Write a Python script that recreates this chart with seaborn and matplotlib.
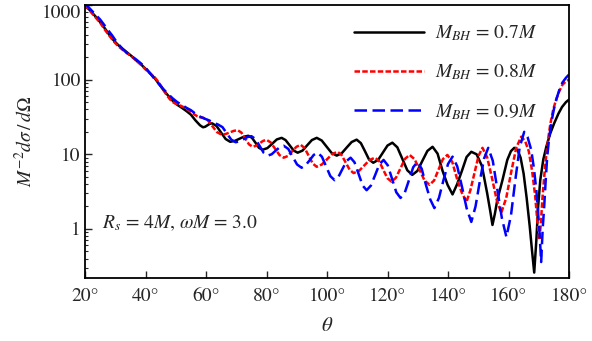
import numpy as np
import pandas as pd
import matplotlib
matplotlib.use("Agg")
import matplotlib.pyplot as plt
import seaborn as sns

# ---- data (theta in degrees, M^-2 dsigma/dOmega) ----
theta_07 = [20, 21, 22, 23.5, 25, 26.5, 28, 29.5, 31, 32.5, 34, 35.5, 37, 38.5, 40, 41.5, 43, 44.5,
            46, 47.5, 49, 50.5, 52, 53.5, 55, 56.5, 58, 59, 59.75, 60.5, 61.25, 62, 63.5, 65, 66.5,
            68, 69.5, 71, 72.5, 74, 75.2, 76.35, 77.5, 78.7, 80.3, 81.85, 83.4, 85, 86.3, 87.65,
            89, 90.3, 91.9, 93.45, 95, 96.6, 98.25, 99.9, 101.55, 103.2, 104.85, 106.5, 108.15,
            109.8, 111.2, 112.55, 113.9, 115.3, 116.9, 118.45, 120, 121.6, 123.25, 124.9, 126.55,
            128.2, 129.9, 131.55, 133.2, 134.9, 136.55, 138.2, 139.85, 141.5, 143.05, 144.6,
            146.15, 147.7, 149.45, 151.2, 152.95, 154, 154.7, 155.5, 156.3, 158, 159.6, 160.8,
            161.9, 163, 164, 165, 166, 167, 167.8, 168.5, 169.2, 169.8, 170.5, 171.5, 172.5,
            173.8, 175.1, 176.5, 177.7, 179, 180]
sigma_07 = [1000, 900, 820, 700, 590, 490, 400, 335, 290, 258, 230, 205, 180, 160, 140, 122, 105, 87,
            72, 61, 52, 46, 42, 38, 34, 28.5, 24.5, 23, 23.4, 24.5, 25.6, 26, 23.9, 19.5, 16.0,
            14.7, 15.1, 16.1, 17.2, 17.7, 16.6, 14.3, 12.2, 11.5, 12.1, 13.8, 15.8, 16.6, 15.5, 13.2,
            11.2, 10.5, 11.2, 13.2, 15.5, 16.6, 15.3, 12.6, 10.4, 9.6, 10.3, 12.3, 14.6,
            15.7, 14.1, 11.0, 8.5, 7.7, 8.4, 10.5, 13.1, 14.3, 12.4, 8.7, 6.1,
            5.3, 6.0, 8.2, 11.1, 12.6, 10.2, 6.0, 3.9, 2.9, 4.0, 6.0,
            9.2, 10.8, 10.0, 7.0, 3.0, 1.7, 1.13, 1.6, 2.45, 4.5, 8.4, 11,
            12.2, 11.4, 9, 5.5, 2.6, 1.1, 0.5, 0.26, 0.7, 2, 4.5, 8.5, 12.6,
            19, 26, 35, 43, 50, 54]

theta_08 = [20, 21, 22, 23.5, 25, 26.5, 28, 29.5, 31, 32.5, 34, 35.5, 37, 38.5, 40, 41.5, 43, 44,
            45, 46, 47, 48, 49, 50, 51, 52, 53, 54, 55, 56, 57, 58, 59, 60.55, 62.1, 63.65, 65.2,
            66.5, 67.85, 69.2, 70.5, 71.7, 72.95, 74.2, 75.4, 76.55, 77.7, 78.85, 80, 81.4, 82.85,
            84.3, 85.7, 87.1, 88.5, 89.9, 91.3, 92.6, 93.95, 95.3, 96.6, 98.3, 100.05, 101.8,
            103.5, 104.8, 106.15, 107.5, 108.8, 110.6, 112.35, 114.1, 115.9, 117.25, 118.6,
            119.95, 121.3, 122.8, 124.3, 125.8, 127.3, 128.95, 130.6, 132.25, 133.9, 135.4,
            136.85, 138.3, 139.8, 141.4, 142.95, 144.5, 146.1, 147.4, 148.75, 150.1, 151.4,
            152.95, 154.5, 156.05, 157.6, 159.25, 160.9, 162.55, 164.2, 165.5, 166.7, 167.8,
            168.8, 169.6, 170.2, 170.7, 171.2, 171.8, 172.5, 173.2, 173.8, 174.8, 175.8, 176.8,
            177.8, 179, 180]
sigma_08 = [1000, 890, 800, 680, 580, 470, 390, 325, 280, 250, 225, 202, 180, 158, 137, 121, 108, 96,
            84, 72, 62, 55, 50, 47.5, 46, 44, 42, 39.5, 37, 34.5, 32.5, 31.3, 31, 28.7, 23.8, 19.8, 18.3,
            18.7, 19.6, 20.6, 21, 19.5, 16.3, 13.6, 12.6, 13.0, 14.0, 15.1, 15.6, 14.4, 11.85,
            9.75, 9, 9.5, 11.0, 12.6, 13.4, 12.1, 9.55, 7.5, 6.8, 7.3, 8.6, 10.1,
            10.8, 9.8, 7.8, 6.2, 5.6, 6.0, 7.1, 8.4, 9, 8.1, 6.2,
            4.8, 4.3, 4.85, 6.5, 8.7, 9.8, 8.6, 6.2, 4.45, 3.9, 4.45,
            6.2, 8.6, 9.8, 7.9, 4.75, 3.1, 2.3, 3.3, 5.6, 9.55, 12.2,
            9.1, 4.9, 2.5, 1.64, 2.6, 5.8, 12.2, 17.2, 15, 11, 6,
            2.8, 1.2, 0.71, 1.2, 2.5, 5, 10, 17, 25, 40, 55, 70,
            85, 95, 100]

theta_09 = [20, 21, 22, 23.5, 25, 26, 27, 28, 29, 30, 31, 32.5, 34, 35.5, 37, 38.5, 40, 41.5, 43,
            44.5, 46, 47.5, 49, 50.5, 52, 53.5, 55, 56.5, 58, 59.5, 61, 62.5, 64, 65.45, 66.9,
            68.35, 69.8, 71.1, 72.4, 73.7, 75, 76.35, 77.7, 79.05, 80.4, 81.7, 83.05, 84.4, 85.7,
            87.2, 88.65, 90.1, 91.6, 92.9, 94.25, 95.6, 96.9, 98.3, 99.7, 101.1, 102.5, 103.8,
            105.15, 106.5, 107.8, 109.1, 110.45, 111.8, 113.1, 114.5, 115.9, 117.3, 118.7, 120.1,
            121.5, 122.9, 124.3, 125.7, 127.1, 128.5, 129.9, 131.3, 132.7, 134.1, 135.5, 137,
            138.5, 140, 141.5, 143.05, 144.6, 146.15, 147.7, 149.1, 150.5, 151.9, 153.3, 154.8,
            156.3, 157.8, 159.3, 160.8, 162.25, 163.7, 165.2, 166.3, 167.5, 168.4, 169.2, 170.2,
            170.8, 171.3, 171.8, 172.3, 172.8, 173.4, 174.1, 175, 175.8, 176.8, 177.8, 179, 180]
sigma_09 = [1050, 950, 860, 740, 640, 565, 500, 440, 390, 340, 300, 255, 225, 205, 185, 165, 145, 122, 102,
            87, 74, 64, 56, 50, 46, 42, 39, 35, 32, 30, 28.5, 26.5, 25, 23.1, 19.0,
            15.7, 14.5, 14.9, 15.9, 17.0, 17.5, 16.0, 13.0, 10.5, 9.6, 10.0, 11.2, 12.45, 13,
            11.8, 9.26, 7.3, 6.6, 7.1, 8.3, 9.8, 10.5, 9.3, 6.9, 5.1, 4.5, 5.0,
            6.4, 8.15, 9, 7.8, 5.45, 3.8, 3.3, 3.8, 5.25, 7.3, 8.4, 7.1,
            4.7, 3.1, 2.6, 3.05, 4.5, 6.7, 7.9, 6.4, 3.9, 2.5, 1.9, 2.6,
            4.5, 7.4, 9.3, 6.9, 3.7, 1.9, 1.24, 2.0, 4.3, 8.7, 12.2, 8.2,
            3.4, 1.4, 0.78, 1.5, 4.5, 12.5, 20, 17, 11.5, 6.5, 3.3, 1.0,
            0.36, 1.0, 2, 4.5, 9.3, 16, 26, 40, 54, 73, 91, 106, 117]

labels = [r"$M_{BH}$ = 0.7$M$", r"$M_{BH}$ = 0.8$M$", r"$M_{BH}$ = 0.9$M$"]
colors = ["black", "#ff0000", "#0000ff"]
xticks = [20, 40, 60, 80, 100, 120, 140, 160, 180]
xticklabels = ["20°", "40°", "60°", "80°", "100°", "120°", "140°", "160°", "180°"]
yticks = [1, 10, 100, 1000]
yticklabels = ["1", "10", "100", "1000"]

sns.set_style("ticks")
plt.rcParams["font.family"] = ["STIXGeneral", "DejaVu Serif"]
plt.rcParams["mathtext.fontset"] = "stix"

fig = plt.figure(figsize=(5.92, 3.41), dpi=100)
ax = fig.add_axes([85 / 592, 1 - 278 / 341, (569 - 85) / 592, (278 - 5) / 341])

series = [(theta_07, sigma_07), (theta_08, sigma_08), (theta_09, sigma_09)]
styles = ["-", (0, (2.2, 0.9)), (0, (5.0, 2.2))]
for (th, sg), lab, col, ls in zip(series, labels, colors, styles):
    df = pd.DataFrame({"theta": th, "sigma": sg})
    sns.lineplot(data=df, x="theta", y="sigma", ax=ax, color=col, linestyle=ls,
                 linewidth=1.8, label=lab, sort=False, estimator=None)

ax.set_yscale("log")
ax.set_xlim(20, 180)
ax.set_ylim(0.22, 1000)
ax.set_xticks(xticks)
ax.set_xticklabels(xticklabels)
ax.set_yticks(yticks)
ax.set_yticklabels(yticklabels)
ax.yaxis.set_minor_locator(matplotlib.ticker.LogLocator(base=10, subs=np.arange(2, 10)))
ax.yaxis.set_minor_formatter(matplotlib.ticker.NullFormatter())
ax.tick_params(axis="both", which="major", direction="in", length=5, width=1.0,
               labelsize=14, top=False, right=False)
ax.tick_params(axis="x", which="major", pad=7)
ax.tick_params(axis="y", which="major", pad=3)
ax.tick_params(axis="y", which="minor", direction="in", length=2.5, width=0.8)
ax.tick_params(axis="x", which="minor", bottom=False)
ax.get_yticklabels()[-1].set_verticalalignment("top")
for s in ax.spines.values():
    s.set_visible(True)
    s.set_linewidth(1.3)
    s.set_color("black")

ax.set_xlabel(r"$\theta$", fontsize=15, labelpad=8)
ax.set_ylabel(r"$M^{-2}d\sigma\,/\,d\Omega$", fontsize=14, labelpad=4)
ax.text(0.035, 0.2, r"$R_s$ = 4$M$, $\omega M$ = 3.0", transform=ax.transAxes,
        fontsize=14, va="center", ha="left")

leg = ax.legend(loc="upper right", bbox_to_anchor=(0.935, 0.932), frameon=False,
                fontsize=14, handlelength=3.6, handletextpad=0.6, labelspacing=1.0,
                borderpad=0, borderaxespad=0)

fig.savefig("out.png", dpi=100)
